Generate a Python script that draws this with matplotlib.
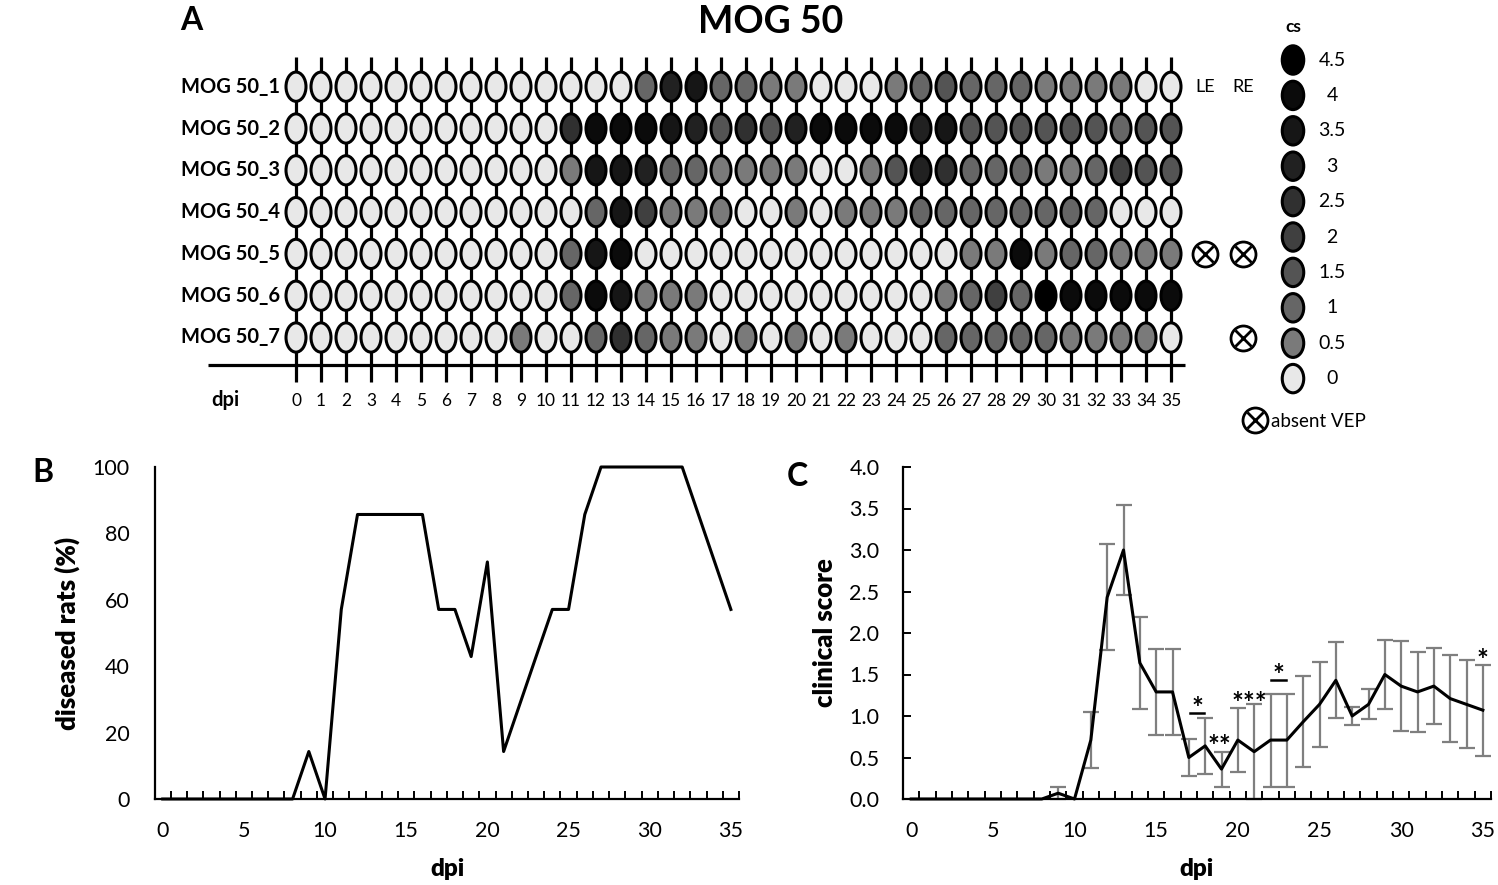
import numpy as np
import matplotlib
matplotlib.use("Agg")
import matplotlib.pyplot as plt
from matplotlib.patches import Ellipse

plt.rcParams['font.family'] = ['Lato', 'DejaVu Sans']

# ---------------- data ----------------
dpi_days = list(range(36))
rat_names = ["MOG 50_1", "MOG 50_2", "MOG 50_3", "MOG 50_4", "MOG 50_5", "MOG 50_6", "MOG 50_7"]

rat1 = [0, 0, 0, 0, 0, 0, 0, 0, 0, 0, 0, 0, 0, 0, 1, 3, 3.5, 1, 1, 0.5, 0.5, 0, 0, 0, 0.5, 1, 1.5, 1, 1, 1, 0.5, 0.5, 0.5, 0.5, 0, 0]
rat2 = [0, 0, 0, 0, 0, 0, 0, 0, 0, 0, 0, 2.5, 4, 4, 4, 3.5, 3, 1.5, 2.5, 1.5, 3, 4, 4, 4, 4, 3, 3.5, 1.5, 1.5, 1.5, 1.5, 1.5, 1.5, 1, 1.5, 1.5]
rat3 = [0, 0, 0, 0, 0, 0, 0, 0, 0, 0, 0, 0.5, 3.5, 3.5, 3, 1, 1, 0.5, 0.5, 0.5, 0.5, 0, 0, 0.5, 1.5, 3, 2.5, 1, 1, 1, 0.5, 0.5, 1, 2, 1.5, 1.5]
rat4 = [0, 0, 0, 0, 0, 0, 0, 0, 0, 0, 0, 0, 1, 3.5, 2, 0.5, 0.5, 0.5, 0, 0, 0.5, 0, 0.5, 0.5, 0.5, 1, 1, 1, 1, 1, 1, 1, 1, 0, 0, 0]
rat5 = [0, 0, 0, 0, 0, 0, 0, 0, 0, 0, 0, 1, 3.5, 4, 0, 0, 0, 0, 0, 0, 0, 0, 0, 0, 0, 0, 0, 0.5, 0.5, 4, 0.5, 1, 1, 0.5, 0.5, 0.5]
rat6 = [0, 0, 0, 0, 0, 0, 0, 0, 0, 0, 0, 1, 4, 3.5, 0.5, 0.5, 0.5, 0, 0, 0, 0, 0, 0, 0, 0, 0, 0.5, 1, 2, 1, 4.5, 4, 4, 4, 4, 4]
rat7 = [0, 0, 0, 0, 0, 0, 0, 0, 0, 0.5, 0, 0, 1, 2.5, 1, 0.5, 0.5, 0, 0.5, 0, 0.5, 0, 0.5, 0, 0, 0, 1, 1, 1, 1, 1, 0.5, 0.5, 0.5, 0.5, 0]
rat_scores = [rat1, rat2, rat3, rat4, rat5, rat6, rat7]

# absent VEP: (rat row 1-based, eye)
absent_vep = [(5, "LE"), (5, "RE"), (7, "RE")]

cs_levels = [4.5, 4, 3.5, 3, 2.5, 2, 1.5, 1, 0.5, 0]
cs_labels = ["4.5", "4", "3.5", "3", "2.5", "2", "1.5", "1", "0.5", "0"]
cs_colors = {0: '#e8e8e8', 0.5: '#7a7a7a', 1: '#666666', 1.5: '#545454', 2: '#404040',
             2.5: '#303030', 3: '#212121', 3.5: '#161616', 4: '#0b0b0b', 4.5: '#000000'}

# panel B
diseased_pct = [0, 0, 0, 0, 0, 0, 0, 0, 0, 14.3, 0, 57.1, 85.7, 85.7, 85.7, 85.7, 85.7, 57.1, 57.1, 42.9,
                71.4, 14.3, 28.6, 42.9, 57.1, 57.1, 85.7, 100, 100, 100, 100, 100, 100, 85.7, 71.4, 57.1]

# panel C
cs_mean = [0, 0, 0, 0, 0, 0, 0, 0, 0, 0.07, 0, 0.71, 2.43, 3.0, 1.64, 1.29, 1.29, 0.5, 0.64, 0.36,
           0.71, 0.57, 0.71, 0.71, 0.93, 1.14, 1.43, 1.0, 1.14, 1.5, 1.36, 1.29, 1.36, 1.21, 1.14, 1.07]
cs_err = [0, 0, 0, 0, 0, 0, 0, 0, 0, 0.07, 0, 0.34, 0.64, 0.54, 0.55, 0.52, 0.52, 0.22, 0.34, 0.21,
          0.39, 0.57, 0.56, 0.56, 0.55, 0.51, 0.46, 0.11, 0.18, 0.42, 0.54, 0.48, 0.46, 0.52, 0.53, 0.55]

# significance annotations: (x, y, text, underline)
sig_marks = [(17.5, 1.04, "*", True), (18.9, 0.58, "**", False), (20.7, 1.10, "***", False),
             (22.5, 1.43, "*", True), (35.0, 1.62, "*", False)]

# ---------------- figure ----------------
W, H = 1498, 885
fig = plt.figure(figsize=(W / 100, H / 100), dpi=100)


def fx(px):
    return px / W


def fy(py):
    return 1 - py / H


# ---------- Panel A ----------
axA = fig.add_axes([0, fy(440), 1, 440 / H])
axA.set_xlim((0 - 296) / 25, (W - 296) / 25)
axA.set_ylim(1 + (440 - 86.7) / 41.8, 1 + (0 - 86.7) / 41.8)
axA.axis('off')


def rr(py):
    return 1 + (py - 86.7) / 41.8


def dd(px):
    return (px - 296) / 25


axA.vlines(dpi_days, rr(57), rr(382), colors='black', lw=2.3, zorder=1)
axA.hlines(rr(365), dd(208), dd(1185), colors='black', lw=2.3, zorder=1)

for i, scores in enumerate(rat_scores):
    row = i + 1
    for d, s in zip(dpi_days, scores):
        axA.add_patch(Ellipse((d, row), 0.80, 0.70, facecolor=cs_colors[s],
                              edgecolor='black', lw=2.2, zorder=3))
    axA.text(dd(280), row, rat_names[i], ha='right', va='center', fontsize=14.5,
             fontweight='bold')

for d in dpi_days:
    axA.text(d, rr(401), str(d), ha='center', va='center', fontsize=12.5)
axA.text(dd(225), rr(400), "dpi", ha='center', va='center', fontsize=14.5, fontweight='bold')

eye_x = {"LE": dd(1205), "RE": dd(1243)}
axA.text(eye_x["LE"], 1, "LE", ha='center', va='center', fontsize=13)
axA.text(eye_x["RE"], 1, "RE", ha='center', va='center', fontsize=13)
for row, eye in absent_vep:
    axA.plot(eye_x[eye], row, 'o', ms=18, mfc='white', mec='black', mew=2.0, zorder=4)
    axA.plot(eye_x[eye], row, 'x', ms=12, mec='black', mew=2.0, zorder=5)

# legend
axA.text(dd(1293), rr(27), "cs", ha='center', va='center', fontsize=12.5, fontweight='bold')
for k, (lev, lab) in enumerate(zip(cs_levels, cs_labels)):
    y = rr(60 + 35.4 * k)
    axA.add_patch(Ellipse((dd(1293), y), 0.86, 0.68, facecolor=cs_colors[lev],
                          edgecolor='black', lw=2.2, zorder=3))
    axA.text(dd(1332), y, lab, ha='center', va='center', fontsize=14)
axA.plot(dd(1255), rr(420), 'o', ms=18, mfc='white', mec='black', mew=2.0)
axA.plot(dd(1255), rr(420), 'x', ms=12, mec='black', mew=2.0)
axA.text(dd(1271), rr(421), "absent VEP", ha='left', va='center', fontsize=13.5)

fig.text(fx(771), fy(22), "MOG 50", ha='center', va='center', fontsize=27, fontweight='bold')
fig.text(fx(191), fy(21), "A", ha='center', va='center', fontsize=23, fontweight='bold')


def style_axes(ax, ymax, ystep, yticks_in, fmt):
    ax.set_xlim(-0.5, 35.5)
    ax.set_ylim(0, ymax)
    for s in ['top', 'right']:
        ax.spines[s].set_visible(False)
    for s in ['left', 'bottom']:
        ax.spines[s].set_linewidth(1.6)
    ax.set_xticks(range(0, 36, 5))
    ax.set_xticks(np.arange(-0.5, 36, 1), minor=True)
    ax.tick_params(axis='x', which='major', length=0, pad=16, labelsize=15.5)
    ax.tick_params(axis='x', which='minor', direction='in', length=6, width=1.4)
    yt = np.arange(0, ymax + ystep / 2, ystep)
    ax.set_yticks(yt)
    ax.set_yticklabels([fmt.format(v) for v in yt])
    if yticks_in:
        ax.tick_params(axis='y', which='major', direction='in', length=6, width=1.4,
                       pad=17, labelsize=15.5)
    else:
        ax.tick_params(axis='y', which='major', length=0, pad=18, labelsize=15.5)


# ---------- Panel B ----------
axB = fig.add_axes([fx(154.6), fy(799), (739 - 154.6) / W, (799 - 467) / H])
style_axes(axB, 100, 20, False, "{:.0f}")
axB.plot(dpi_days, diseased_pct, color='black', lw=2.2, clip_on=False, zorder=3)
fig.text(fx(447), fy(869), "dpi", ha='center', va='center', fontsize=17.5, fontweight='heavy')
fig.text(fx(67), fy(633), "diseased rats (%)", ha='center', va='center', fontsize=18.5,
         fontweight='heavy', rotation=90)
fig.text(fx(43), fy(472), "B", ha='center', va='center', fontsize=23, fontweight='bold')

# ---------- Panel C ----------
axC = fig.add_axes([fx(903), fy(799), (1491 - 903) / W, (799 - 467) / H])
style_axes(axC, 4.0, 0.5, True, "{:.1f}")
nz = [i for i, e in enumerate(cs_err) if e > 0]
axC.errorbar([dpi_days[i] for i in nz], [cs_mean[i] for i in nz], yerr=[cs_err[i] for i in nz],
             fmt='none', ecolor='#7f7f7f', elinewidth=1.6, capsize=6, capthick=1.6, zorder=2,
             clip_on=False)
axC.plot(dpi_days, cs_mean, color='black', lw=2.2, clip_on=False, zorder=3)
for x, y, t, ul in sig_marks:
    axC.text(x, y - 0.11, t, ha='center', va='bottom', fontsize=20, fontweight='bold')
    if ul:
        axC.plot([x - 0.45, x + 0.45], [y, y], color='black', lw=1.8)
fig.text(fx(1197), fy(869), "dpi", ha='center', va='center', fontsize=17.5, fontweight='heavy')
fig.text(fx(825), fy(633), "clinical score", ha='center', va='center', fontsize=18.5,
         fontweight='heavy', rotation=90)
fig.text(fx(797), fy(476), "C", ha='center', va='center', fontsize=23, fontweight='bold')

fig.savefig("out.png", dpi=100)
